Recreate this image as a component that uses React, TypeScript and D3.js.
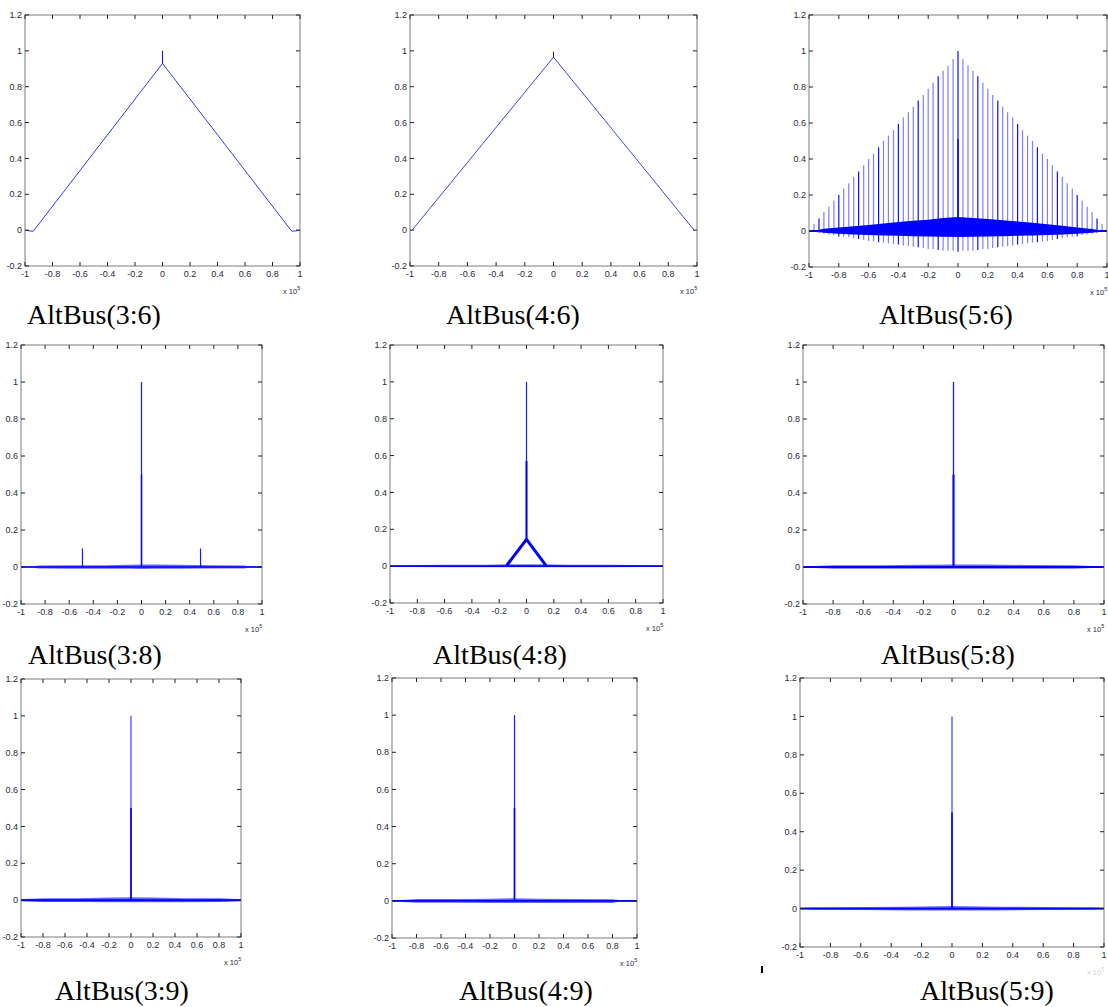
import React from 'react';
import * as d3 from 'd3';

// ---------- shared axis data ----------
const xTicks = [-1, -0.8, -0.6, -0.4, -0.2, 0, 0.2, 0.4, 0.6, 0.8, 1];
const xTickLabels = ['-1', '-0.8', '-0.6', '-0.4', '-0.2', '0', '0.2', '0.4', '0.6', '0.8', '1'];
const yTicks = [-0.2, 0, 0.2, 0.4, 0.6, 0.8, 1, 1.2];
const yTickLabels = ['-0.2', '0', '0.2', '0.4', '0.6', '0.8', '1', '1.2'];
const captions = ['AltBus(3:6)', 'AltBus(4:6)', 'AltBus(5:6)', 'AltBus(3:8)', 'AltBus(4:8)', 'AltBus(5:8)', 'AltBus(3:9)', 'AltBus(4:9)', 'AltBus(5:9)'];

// ---------- panel data ----------
// AltBus(3:6): triangle with small spike
const tri36X = [-1, -0.97, -0.94, 0, 0, 0, 0.94, 0.97, 1];
const tri36Y = [0, -0.004, -0.006, 0.93, 1.0, 0.93, -0.006, -0.004, 0];

// AltBus(4:6)
const tri46X = [-0.985, 0, 0, 0, 0.98];
const tri46Y = [0, 0.965, 0.995, 0.965, 0];

// AltBus(5:6): comb of spikes
const comb56X = [-0.967, -0.933, -0.9, -0.867, -0.833, -0.8, -0.767, -0.733, -0.7, -0.667, -0.633, -0.6, -0.567, -0.533, -0.5, -0.467, -0.433, -0.4, -0.367, -0.333, -0.3, -0.267, -0.233, -0.2, -0.167, -0.133, -0.1, -0.067, -0.033,
  0,
  0.033, 0.067, 0.1, 0.133, 0.167, 0.2, 0.233, 0.267, 0.3, 0.333, 0.367, 0.4, 0.433, 0.467, 0.5, 0.533, 0.567, 0.6, 0.633, 0.667, 0.7, 0.733, 0.767, 0.8, 0.833, 0.867, 0.9, 0.933, 0.967];
const comb56Top = [0.04, 0.07, 0.105, 0.135, 0.17, 0.2, 0.235, 0.265, 0.3, 0.33, 0.365, 0.4, 0.43, 0.465, 0.5, 0.53, 0.56, 0.595, 0.63, 0.66, 0.69, 0.725, 0.755, 0.79, 0.825, 0.86, 0.89, 0.92, 0.955,
  1.0,
  0.955, 0.92, 0.89, 0.86, 0.825, 0.79, 0.755, 0.725, 0.69, 0.66, 0.63, 0.595, 0.56, 0.53, 0.5, 0.465, 0.43, 0.4, 0.365, 0.33, 0.3, 0.265, 0.235, 0.2, 0.17, 0.135, 0.105, 0.07, 0.04];
const comb56Bottom = [-0.005, -0.01, -0.015, -0.02, -0.022, -0.03, -0.032, -0.035, -0.04, -0.045, -0.05, -0.055, -0.058, -0.062, -0.065, -0.068, -0.072, -0.075, -0.08, -0.085, -0.088, -0.09, -0.095, -0.1, -0.1, -0.105, -0.11, -0.11, -0.11,
  -0.115,
  -0.11, -0.11, -0.11, -0.105, -0.1, -0.1, -0.095, -0.09, -0.088, -0.085, -0.08, -0.075, -0.072, -0.068, -0.065, -0.062, -0.058, -0.055, -0.05, -0.045, -0.04, -0.035, -0.032, -0.03, -0.022, -0.02, -0.015, -0.01, -0.005];
const band56X = [-1, -0.95, -0.9, -0.8, -0.7, -0.6, -0.5, -0.4, -0.3, -0.2, -0.1, 0, 0.1, 0.2, 0.3, 0.4, 0.5, 0.6, 0.7, 0.8, 0.9, 0.95, 1];
const band56Up = [0.003, 0.004, 0.012, 0.02, 0.027, 0.034, 0.042, 0.05, 0.057, 0.063, 0.072, 0.078, 0.072, 0.066, 0.06, 0.053, 0.046, 0.038, 0.029, 0.02, 0.011, 0.004, 0.003];
const band56Lo = [-0.003, -0.004, -0.01, -0.015, -0.019, -0.022, -0.025, -0.027, -0.029, -0.03, -0.032, -0.033, -0.032, -0.03, -0.029, -0.027, -0.025, -0.022, -0.019, -0.015, -0.01, -0.004, -0.003];
const peak56X = [0];
const peak56Top = [0.51];

// AltBus(3:8)
const spike38X = [-0.49, 0, 0.49];
const spike38Top = [0.1, 1.0, 0.1];
const band38X = [-1, -0.9, -0.85, -0.6, -0.3, -0.1, 0, 0.1, 0.3, 0.6, 0.85, 0.9, 1];
const band38Up = [0.003, 0.004, 0.008, 0.01, 0.01, 0.012, 0.014, 0.014, 0.012, 0.01, 0.008, 0.004, 0.003];
const band38Lo = [-0.003, -0.004, -0.008, -0.009, -0.01, -0.01, -0.011, -0.01, -0.009, -0.008, -0.008, -0.004, -0.003];

// AltBus(4:8)
const tri48X = [-0.145, 0, 0.142];
const tri48Y = [0.004, 0.145, 0.004];
const spike48X = [0];
const spike48Top = [1.0];
const spike48Bot = [0.145];
const spike48bX = [0];
const spike48bTop = [0.57];
const band48X = [-1, -0.85, -0.6, -0.3, -0.15, 0.15, 0.3, 0.6, 0.85, 1];
const band48Up = [0.003, 0.006, 0.008, 0.008, 0.01, 0.01, 0.008, 0.008, 0.006, 0.003];
const band48Lo = [-0.003, -0.004, -0.006, -0.006, -0.006, -0.006, -0.006, -0.006, -0.004, -0.003];

// AltBus(5:8)
const spike58X = [0];
const spike58Top = [1.0];
const spike58bTop = [0.5];
const band58X = [-1, -0.92, -0.8, -0.5, -0.2, 0, 0.2, 0.5, 0.8, 0.92, 1];
const band58Up = [0.003, 0.005, 0.01, 0.01, 0.012, 0.014, 0.013, 0.011, 0.01, 0.005, 0.003];
const band58Lo = [-0.003, -0.006, -0.01, -0.01, -0.01, -0.01, -0.01, -0.01, -0.01, -0.006, -0.003];

// AltBus(3:9)
const spike39X = [0];
const spike39Top = [1.0];
const spike39bTop = [0.5];
const band39X = [-1, -0.9, -0.8, -0.5, -0.2, 0, 0.2, 0.5, 0.8, 0.9, 1];
const band39Up = [0.006, 0.007, 0.01, 0.01, 0.014, 0.016, 0.014, 0.01, 0.01, 0.007, 0.006];
const band39Lo = [-0.005, -0.007, -0.01, -0.01, -0.012, -0.012, -0.012, -0.012, -0.01, -0.007, -0.005];

// AltBus(4:9)
const spike49X = [0];
const spike49Top = [1.0];
const spike49bTop = [0.5];
const band49X = [-1, -0.88, -0.8, -0.5, -0.2, 0, 0.2, 0.5, 0.8, 0.85, 1];
const band49Up = [0.004, 0.006, 0.01, 0.01, 0.012, 0.014, 0.012, 0.01, 0.008, 0.005, 0.004];
const band49Lo = [-0.004, -0.008, -0.01, -0.01, -0.012, -0.012, -0.012, -0.012, -0.012, -0.005, -0.004];

// AltBus(5:9)
const spike59X = [0];
const spike59Top = [1.0];
const spike59bTop = [0.5];
const band59X = [-1, -0.9, -0.6, -0.3, -0.1, 0, 0.1, 0.3, 0.6, 0.9, 1];
const band59Up = [0.006, 0.007, 0.008, 0.01, 0.012, 0.014, 0.012, 0.01, 0.008, 0.007, 0.006];
const band59Lo = [-0.004, -0.006, -0.008, -0.01, -0.01, -0.01, -0.01, -0.01, -0.008, -0.006, -0.004];

const zip = (xs: number[], ys: number[]) => xs.map((x, i) => [x, ys[i]] as [number, number]);

// ---------- layout ----------
type Box = { l: number; t: number; r: number; b: number };
const layout: { box: Box; cx: number; cy: number; fadedExp?: boolean }[] = [
  { box: { l: 25, t: 15, r: 300, b: 266 }, cx: 94, cy: 324 },
  { box: { l: 410, t: 15, r: 697, b: 266 }, cx: 513, cy: 324 },
  { box: { l: 809, t: 15, r: 1107, b: 267 }, cx: 946, cy: 324 },
  { box: { l: 21, t: 345, r: 262, b: 604 }, cx: 95, cy: 664 },
  { box: { l: 390, t: 345, r: 663, b: 603 }, cx: 500, cy: 664 },
  { box: { l: 803, t: 345, r: 1104, b: 604 }, cx: 948, cy: 664 },
  { box: { l: 21, t: 679, r: 241, b: 937 }, cx: 122, cy: 1000 },
  { box: { l: 392, t: 678, r: 637, b: 938 }, cx: 526, cy: 1000 },
  { box: { l: 800, t: 678, r: 1104, b: 947 }, cx: 987, cy: 1000, fadedExp: true },
];

type Line = { pts: [number, number][]; w: number; op: number };
type Band = { xs: number[]; up: number[]; lo: number[]; op: number };
type Spikes = { xs: number[]; top: number[]; bot?: number[]; w: number; op: number | ((i: number) => number) };
type PanelData = { lines: Line[]; bands: Band[]; spikes: Spikes[]; baseline: number };

const panels: PanelData[] = [
  { lines: [{ pts: zip(tri36X, tri36Y), w: 1, op: 0.8 }], bands: [], spikes: [], baseline: 0 },
  { lines: [{ pts: zip(tri46X, tri46Y), w: 1, op: 0.75 }], bands: [], spikes: [], baseline: 0 },
  {
    lines: [],
    bands: [{ xs: band56X, up: band56Up, lo: band56Lo, op: 1 }],
    spikes: [
      { xs: comb56X, top: comb56Top, bot: comb56Bottom, w: 1.2, op: (i: number) => (i % 4 === 1 ? 0.95 : 0.5) },
      { xs: peak56X, top: peak56Top, w: 1.5, op: 1 },
    ],
    baseline: 2,
  },
  {
    lines: [],
    bands: [{ xs: band38X, up: band38Up, lo: band38Lo, op: 0.6 }],
    spikes: [
      { xs: spike38X, top: spike38Top, w: 1.2, op: 0.9 },
      { xs: [0], top: [0.5], w: 1.5, op: 0.9 },
    ],
    baseline: 1.6,
  },
  {
    lines: [{ pts: zip(tri48X, tri48Y), w: 3, op: 1 }],
    bands: [{ xs: band48X, up: band48Up, lo: band48Lo, op: 0.55 }],
    spikes: [
      { xs: spike48X, top: spike48Top, bot: spike48Bot, w: 1.2, op: 0.9 },
      { xs: spike48bX, top: spike48bTop, bot: spike48Bot, w: 2, op: 1 },
    ],
    baseline: 1.6,
  },
  {
    lines: [],
    bands: [{ xs: band58X, up: band58Up, lo: band58Lo, op: 0.6 }],
    spikes: [
      { xs: spike58X, top: spike58Top, w: 1.3, op: 0.9 },
      { xs: spike58X, top: spike58bTop, w: 2, op: 1 },
    ],
    baseline: 1.8,
  },
  {
    lines: [],
    bands: [{ xs: band39X, up: band39Up, lo: band39Lo, op: 0.6 }],
    spikes: [
      { xs: spike39X, top: spike39Top, w: 1.1, op: 0.85 },
      { xs: spike39X, top: spike39bTop, w: 1.6, op: 1 },
    ],
    baseline: 2,
  },
  {
    lines: [],
    bands: [{ xs: band49X, up: band49Up, lo: band49Lo, op: 0.6 }],
    spikes: [
      { xs: spike49X, top: spike49Top, w: 1.2, op: 0.9 },
      { xs: spike49X, top: spike49bTop, w: 1.6, op: 1 },
    ],
    baseline: 1.8,
  },
  {
    lines: [],
    bands: [{ xs: band59X, up: band59Up, lo: band59Lo, op: 0.6 }],
    spikes: [
      { xs: spike59X, top: spike59Top, w: 1.1, op: 0.85 },
      { xs: spike59X, top: spike59bTop, w: 1.6, op: 1 },
    ],
    baseline: 1.8,
  },
];

const BLUE = '#0000ff';
const TICKFONT = "'Liberation Sans', Arial, sans-serif";

function Panel({ idx }: { idx: number }) {
  const { box, cx, cy, fadedExp } = layout[idx];
  const data = panels[idx];
  const x = d3.scaleLinear().domain([-1, 1]).range([box.l, box.r]);
  const y = d3.scaleLinear().domain([-0.2, 1.2]).range([box.b, box.t]);
  const line = d3.line<[number, number]>().x((d) => x(d[0])).y((d) => y(d[1]));
  const clipId = `clip${idx}`;
  const tl = 4;
  return (
    <g>
      <defs>
        <clipPath id={clipId}>
          <rect x={box.l} y={box.t} width={box.r - box.l} height={box.b - box.t} />
        </clipPath>
      </defs>
      <g clipPath={`url(#${clipId})`}>
        {data.bands.map((bd, i) => {
          const area = d3
            .area<number>()
            .x((d) => x(d))
            .y0((_, j) => y(bd.lo[j]))
            .y1((_, j) => y(bd.up[j]));
          return <path key={'b' + i} d={area(bd.xs) || ''} fill={BLUE} fillOpacity={bd.op} stroke="none" />;
        })}
        {data.baseline > 0 && (
          <line x1={x(-1)} x2={x(1)} y1={y(0)} y2={y(0)} stroke={BLUE} strokeWidth={data.baseline} />
        )}
        {data.spikes.map((sp, i) =>
          sp.xs.map((sx, j) => (
            <line
              key={`s${i}-${j}`}
              x1={x(sx)}
              x2={x(sx)}
              y1={y(sp.bot ? sp.bot[j] : 0)}
              y2={y(sp.top[j])}
              stroke={BLUE}
              strokeWidth={sp.w}
              strokeOpacity={typeof sp.op === 'function' ? sp.op(j) : sp.op}
            />
          ))
        )}
        {data.lines.map((ln, i) => (
          <path key={'l' + i} d={line(ln.pts) || ''} fill="none" stroke={BLUE} strokeWidth={ln.w} strokeOpacity={ln.op} strokeLinejoin="round" />
        ))}
      </g>
      {/* frame */}
      <rect x={box.l} y={box.t} width={box.r - box.l} height={box.b - box.t} fill="none" stroke="#7d7d7d" strokeWidth={1} />
      {/* ticks */}
      {xTicks.map((t, i) => (
        <g key={'xt' + i}>
          <line x1={x(t)} x2={x(t)} y1={box.b} y2={box.b - tl} stroke="#222" strokeWidth={1} />
          <line x1={x(t)} x2={x(t)} y1={box.t} y2={box.t + tl} stroke="#222" strokeWidth={1} />
          <text x={x(t)} y={box.b + 11} textAnchor="middle" fontSize={9} fontFamily={TICKFONT} fill="#2a2a40">
            {xTickLabels[i]}
          </text>
        </g>
      ))}
      {yTicks.map((t, i) => (
        <g key={'yt' + i}>
          <line x1={box.l} x2={box.l + tl} y1={y(t)} y2={y(t)} stroke="#222" strokeWidth={1} />
          <line x1={box.r} x2={box.r - tl} y1={y(t)} y2={y(t)} stroke="#222" strokeWidth={1} />
          <text x={box.l - 3} y={y(t)} dy="0.35em" textAnchor="end" fontSize={9} fontFamily={TICKFONT} fill="#2a2a40">
            {yTickLabels[i]}
          </text>
        </g>
      ))}
      <text x={box.r - 17} y={box.b + 28} fontSize={7.5} fontFamily={TICKFONT} fill={fadedExp ? '#d0d0d0' : '#2a2a40'}>
        x 10
        <tspan dy={-4} fontSize={5.5}>5</tspan>
      </text>
      <text x={cx} y={cy} textAnchor="middle" fontSize={28} fontFamily="'Liberation Serif', 'Times New Roman', serif" fill="#000">
        {captions[idx]}
      </text>
    </g>
  );
}

export default function App() {
  return (
    <svg
      width={1108}
      height={1007}
      style={{ position: 'absolute', left: 0, top: 0, display: 'block', background: '#fff' }}
    >
      <rect x={0} y={0} width={1108} height={1007} fill="#fff" />
      {panels.map((_, i) => (
        <Panel key={i} idx={i} />
      ))}
      <rect x={761} y={966} width={2} height={7} fill="#000" />
    </svg>
  );
}
